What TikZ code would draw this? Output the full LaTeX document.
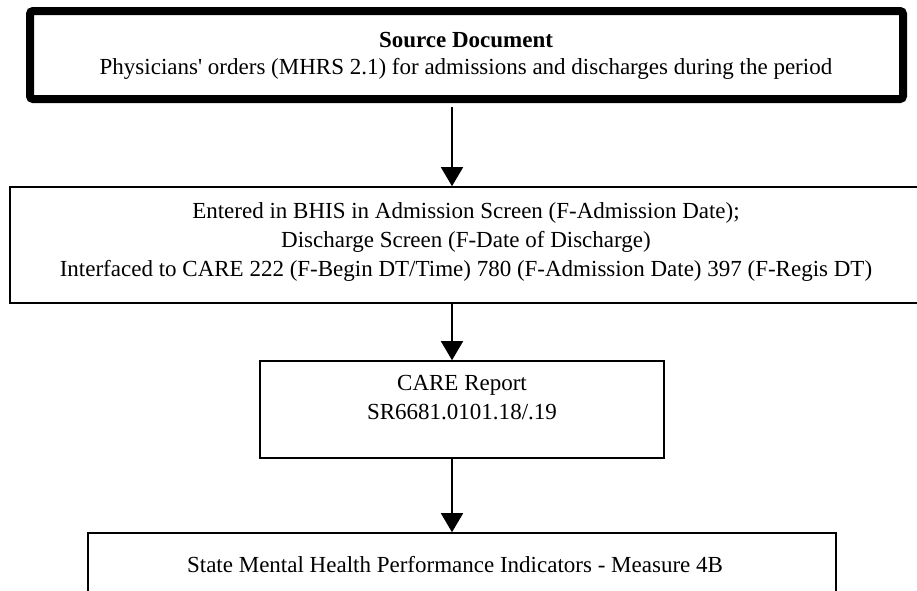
\documentclass[tikz,border=0pt]{standalone}
\usepackage{fontspec}
\setmainfont{Liberation Serif}
\usetikzlibrary{arrows.meta}
\begin{document}
\begin{tikzpicture}[x=1pt,y=-1pt,
  thinbox/.style={draw=black, line width=1.6pt, rectangle, inner sep=0pt},
  thickbox/.style={draw=black, line width=8pt, rectangle, rounded corners=3pt, inner sep=0pt},
  txt/.style={font=\fontsize{23}{29}\selectfont, align=center, inner sep=0pt},
  arr/.style={line width=1.5pt, -{Triangle[width=22pt,length=19pt]}}]
\useasboundingbox (0,0) rectangle (917,590);
\clip (0,0) rectangle (917,590);
\node[thickbox, minimum width=873pt, minimum height=88pt] (top) at (466.5,55) {};
\node[thinbox, minimum width=912pt, minimum height=116pt] (b2) at (466,245) {};
\node[thinbox, minimum width=404pt, minimum height=97pt] (b3) at (462,409.5) {};
\node[thinbox, minimum width=748pt, minimum height=106pt] (b4) at (462,586) {};
\coordinate (ax) at (452,0);
\node[txt, font=\fontsize{23}{29}\selectfont\bfseries] (t1a) at (466,40) {Source Document};
\node[txt] (t1b) at (466,69) {Physicians\textquotesingle{} orders (MHRS 2.1) for admissions and discharges during the period};
\node[txt] (t2) at (466,242) {Entered in BHIS in Admission Screen (F-Admission Date);\\Discharge Screen (F-Date of Discharge)\\Interfaced to CARE 222 (F-Begin DT/Time) 780 (F-Admission Date) 397 (F-Regis DT)};
\node[txt] (t3) at (462,398) {CARE Report\\SR6681.0101.18/.19};
\node[txt] (t4) at (455,565) {State Mental Health Performance Indicators - Measure 4B};
\draw[arr] ([yshift=-4pt]top.south -| ax) -- (b2.north -| ax);
\draw[arr] (b2.south -| ax) -- (b3.north -| ax);
\draw[arr] (b3.south -| ax) -- (b4.north -| ax);
\end{tikzpicture}
\end{document}
